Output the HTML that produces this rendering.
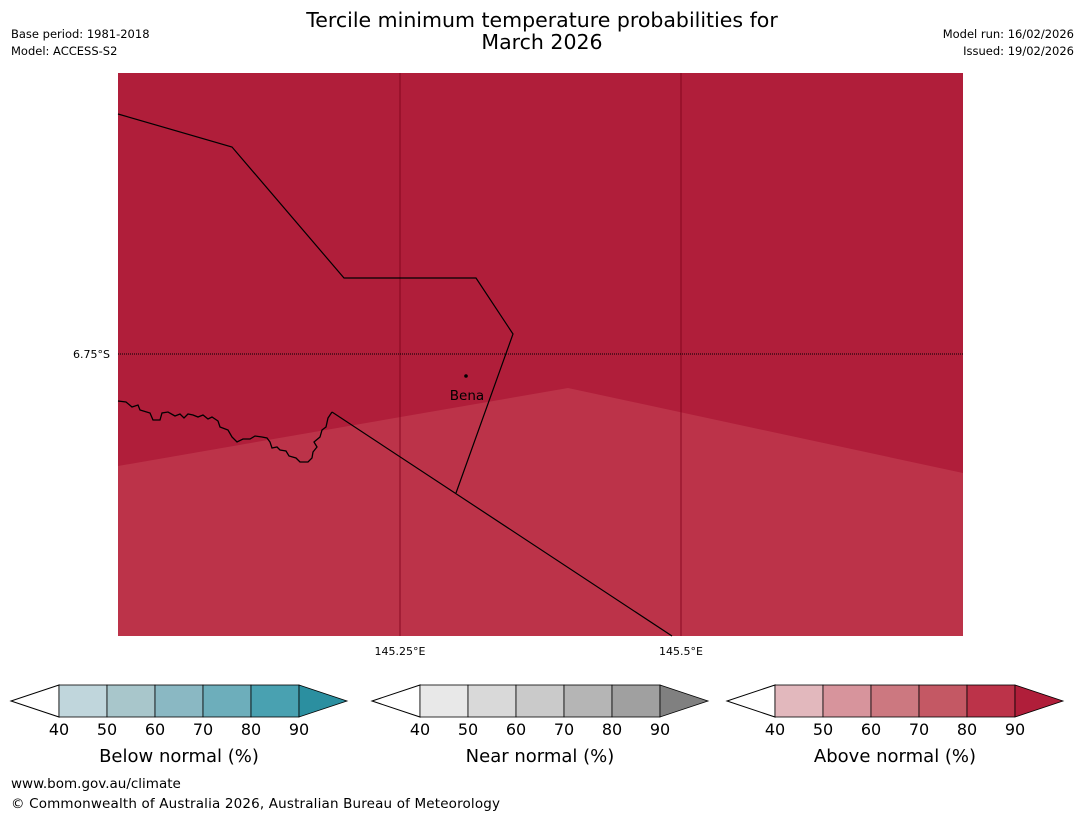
<!DOCTYPE html>
<html><head><meta charset="utf-8"><style>
html,body{margin:0;padding:0;background:#fff;width:1085px;height:816px;overflow:hidden;font-family:"Liberation Sans","DejaVu Sans",sans-serif}
</style></head><body>
<svg id="s" width="1085" height="816" xmlns="http://www.w3.org/2000/svg" font-family="DejaVu Sans, Liberation Sans, sans-serif">
<text x="542" y="27" font-size="20.5" text-anchor="middle">Tercile minimum temperature probabilities for</text>
<text x="542" y="49" font-size="20.5" text-anchor="middle">March 2026</text>
<text x="11" y="38" font-size="11.5">Base period: 1981-2018</text>
<text x="11" y="55" font-size="11.5">Model: ACCESS-S2</text>
<text x="1074" y="38" font-size="11.5" text-anchor="end">Model run: 16/02/2026</text>
<text x="1074" y="55" font-size="11.5" text-anchor="end">Issued: 19/02/2026</text>
<g>
<rect x="118" y="73" width="845" height="563" fill="#b01e3a"/>
<polygon points="118,466 568,388 963,473 963,636 118,636" fill="#bc3349"/>
<line x1="400" y1="73" x2="400" y2="636" stroke="#7a0018" stroke-width="0.8"/>
<line x1="681" y1="73" x2="681" y2="636" stroke="#7a0018" stroke-width="0.8"/>
<line x1="118" y1="354" x2="963" y2="354" stroke="#000" stroke-width="1" stroke-dasharray="1,1"/>
<polyline points="118,114 232,147 344,278 476,278 513,334 456,493" fill="none" stroke="#000" stroke-width="1.2"/>
<polyline points="332,412 672,636" fill="none" stroke="#000" stroke-width="1.2"/>
<path d="M118,401 L126,402 L132,407 L138,405 L140,410 L150,413 L153,420 L160,420 L162,413 L168,412 L175,416 L180,414 L184,418 L188,414 L193,415 L198,417 L203,415 L208,419 L212,417 L218,421 L220,427 L228,430 L232,437 L237,442 L243,439 L250,439 L255,436 L262,437 L267,438 L270,442 L272,448 L277,447 L280,450 L286,451 L289,456 L296,458 L300,462 L308,462 L312,458 L313,452 L317,447 L314,442 L320,437 L322,430 L326,427 L328,418 L332,412" fill="none" stroke="#000" stroke-width="1.3"/>
<circle cx="466" cy="376" r="1.8" fill="#000"/>
<text x="467" y="400" font-size="13.5" text-anchor="middle">Bena</text>
</g>
<text x="110" y="358" font-size="11" text-anchor="end">6.75°S</text>
<text x="400" y="655" font-size="11" text-anchor="middle">145.25°E</text>
<text x="681" y="655" font-size="11" text-anchor="middle">145.5°E</text>
<g id="bars"></g>
<text x="11" y="788" font-size="13.5">www.bom.gov.au/climate</text>
<text x="11" y="808" font-size="13.5" textLength="489">© Commonwealth of Australia 2026, Australian Bureau of Meteorology</text>
</svg>
<script>
const ticks=[40,50,60,70,80,90];
const barTitles=["Below normal (%)","Near normal (%)","Above normal (%)"];
const barNames=["below-normal","near-normal","above-normal"];
const barColors=[["#c0d6dc","#a8c6cb","#8ab8c3","#6daebb","#49a1b1","#2b8fa0"],["#e8e8e8","#d9d9d9","#cacaca","#b5b5b5","#a0a0a0","#808080"],["#e2b8bd","#d7949c","#cc7880","#c45864","#bc3349","#b01e3a"]];
const starts=[59,420,775];
const g=document.getElementById('bars');const NS="http://www.w3.org/2000/svg";
function mk(t,a){const e=document.createElementNS(NS,t);for(const k in a)e.setAttribute(k,a[k]);return e;}
barNames.forEach((nm,b)=>{
 const x0=starts[b],w=48,y0=685,h=32;
 const grp=mk('g',{});
 
 
 const lt=mk('polygon',{points:`${x0},${y0} ${x0-48},${y0+h/2} ${x0},${y0+h}`,fill:'#fff',stroke:'#000','stroke-width':1});
 
 
 grp.appendChild(lt);
 for(let i=0;i<5;i++){
  const r=mk('rect',{x:x0+i*w,y:y0,width:w,height:h,fill:barColors[b][i],stroke:'#000','stroke-width':0.8});
  
  
  grp.appendChild(r);
 }
 const xe=x0+5*w;
 const rt=mk('polygon',{points:`${xe},${y0} ${xe+48},${y0+h/2} ${xe},${y0+h}`,fill:barColors[b][5],stroke:'#000','stroke-width':0.8});
 
 
 grp.appendChild(rt);
 ticks.forEach((t,i)=>{
  const tx=mk('text',{x:x0+i*w,y:735,'font-size':16,'text-anchor':'middle'});tx.textContent=t;
  
  
  grp.appendChild(tx);
 });
 const tt=mk('text',{x:x0+2.5*w,y:762,'font-size':18,'text-anchor':'middle'});tt.textContent=barTitles[b];
 
 
 grp.appendChild(tt);
 g.appendChild(grp);
});
</script>
</body></html>
